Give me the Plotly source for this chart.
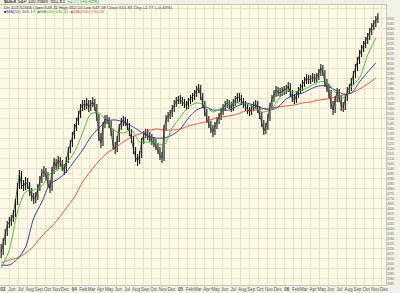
import pandas as pd
import plotly.graph_objects as go

# ---- data ----
price_dates = pd.date_range("2003-05-02", periods=186, freq="W-FRI")
close = [416,426,435,443,446,449,454,466,482,494,
         483,482,486,483,477,472,469,471,480,488,
         495,497,493,484,480,498,506,502,508,505,
         501,498,508,518,524,532,540,546,553,560,
         564,562,565,561,564,566,561,551,531,525,
         543,549,548,544,536,522,519,529,541,546,
         548,546,542,536,529,518,511,507,513,527,
         533,535,532,530,527,525,522,518,512,510,
         540,549,552,554,559,564,567,568,568,566,
         564,562,567,569,571,574,578,580,572,564,
         556,549,544,539,536,542,547,551,556,560,
         563,565,563,560,565,568,571,570,567,564,
         561,558,556,560,562,564,559,553,545,537,
         541,550,562,569,574,578,576,575,577,578,
         579,582,575,570,568,573,577,580,584,587,
         590,588,589,591,589,591,595,600,596,585,
         581,575,564,558,569,576,570,562,561,570,
         577,580,586,593,600,607,614,619,623,627,
         631,636,641,644,648,651]
high = [424,430,439,447,451,453,458,469,485,498,
        497,488,491,490,486,480,475,476,484,492,
        499,502,500,496,488,501,510,509,512,511,
        508,504,511,521,528,536,544,550,557,564,
        568,568,570,568,568,571,569,564,554,535,
        546,553,553,551,547,539,526,532,544,550,
        552,551,549,545,539,532,521,514,517,530,
        537,539,539,536,534,531,529,525,521,516,
        543,553,556,558,563,568,571,572,573,571,
        569,567,570,573,575,578,582,584,583,575,
        567,559,552,547,543,546,551,555,560,564,
        567,569,568,566,569,572,575,575,573,570,
        567,564,561,564,566,568,567,562,556,548,
        545,554,565,573,578,582,581,580,581,582,
        583,586,585,578,574,577,581,584,588,591,
        594,593,593,595,594,595,599,604,603,598,
        589,584,578,567,572,580,579,573,566,573,
        581,584,590,597,604,611,618,623,627,631,
        635,640,645,648,652,655]
low = [410,413,423,432,440,442,446,451,463,479,
       479,477,478,479,472,467,464,465,468,477,
       485,491,488,480,475,477,494,498,499,501,
       497,493,495,505,515,521,529,537,543,550,
       557,558,559,556,557,561,557,547,527,520,
       522,540,544,540,532,518,514,516,526,538,
       542,542,538,532,525,514,506,502,504,510,
       524,530,528,526,523,521,518,514,508,505,
       507,537,546,549,551,556,561,564,564,562,
       560,558,559,564,566,568,571,575,568,560,
       552,545,540,535,531,533,539,544,548,553,
       557,560,559,556,557,562,565,566,563,560,
       557,554,552,553,557,559,555,549,541,533,
       534,538,547,559,566,571,572,571,572,573,
       574,576,571,566,564,565,570,574,577,581,
       584,584,584,586,585,586,588,592,592,581,
       576,570,559,553,555,566,566,557,556,558,
       567,574,577,583,590,597,604,611,616,620,
       624,628,633,638,641,645]
open_ = [low[0]] + close[:-1]

ma_dates = price_dates[::4]
ma20 = [400,418,456,476,478,482,494,498,505,516,
        535,554,555,546,537,535,538,526,526,525,
        523,540,551,561,565,563,556,560,564,565,
        564,561,556,558,568,578,576,578,582,586,
        586,576,570,581,590,613,630]
ma50 = [403,403,409,421,450,466,484,489,496,507,
        518,531,540,547,548,546,542,537,532,530,
        530,533,539,550,558,561,558,558,558,562,
        565,563,560,558,561,569,573,575,579,582,
        582,578,574,575,586,596,605]
ma200 = [405,408,410,415,422,432,440,449,460,471,
         486,497,507,515,520,526,531,534,537,539,
         538,538,539,542,544,546,549,551,552,554,
         557,558,559,560,561,562,563,565,566,568,
         569,571,573,575,579,584,590]

month_ticks = pd.date_range("2003-05-01", "2006-12-01", freq="MS")
month_labels = [("<b>%s</b>" % d.strftime("%y")) if (d.month == 1 or i == 0) else d.strftime("%b")
                for i, d in enumerate(month_ticks)]
price_labels = list(range(385, 655, 5))
grid_vals = list(range(390, 661, 10))

# ---- figure ----
fig = go.Figure()
fig.add_trace(go.Scatter(x=ma_dates, y=ma200, mode="lines",
                         line=dict(color="#e5534b", width=1, shape="spline", smoothing=0.8)))
fig.add_trace(go.Scatter(x=ma_dates, y=ma50, mode="lines",
                         line=dict(color="#3a3f9a", width=1, shape="spline", smoothing=0.8)))
fig.add_trace(go.Scatter(x=ma_dates, y=ma20, mode="lines",
                         line=dict(color="#4dbb4d", width=1, shape="spline", smoothing=0.8)))
fig.add_trace(go.Ohlc(x=price_dates, open=open_, high=high, low=low, close=close,
                      increasing=dict(line=dict(color="#161616", width=1.1)),
                      decreasing=dict(line=dict(color="#161616", width=1.1)),
                      tickwidth=0))
fig.add_trace(go.Scatter(x=price_dates, y=close, mode="lines",
                         line=dict(color="#222222", width=0.7), hoverinfo="skip"))
fig.add_trace(go.Scatter(x=[price_dates[0]], y=[close[0]], yaxis="y2", mode="markers",
                         marker=dict(opacity=0), hoverinfo="skip"))

yr = [383, 663]
fig.update_layout(
    width=400, height=293,
    margin=dict(l=0, r=14, t=5, b=8),
    paper_bgcolor="#F2F1E6",
    plot_bgcolor="#FCFAE6",
    showlegend=False,
    xaxis=dict(type="date", range=["2003-04-28", "2006-12-15"],
               tickvals=list(month_ticks), ticktext=month_labels, tickangle=0,
               tickfont=dict(size=4.5, color="#555555", family="Liberation Sans"),
               ticklabelshift=2, ticklabeloverflow="allow",
               showgrid=True, gridcolor="#E6E3C6", gridwidth=1, ticks="",
               showline=True, linecolor="#C9C7B2", mirror=True, zeroline=False,
               rangeslider=dict(visible=False)),
    yaxis=dict(range=yr, tickvals=grid_vals, showticklabels=False,
               showgrid=True, gridcolor="#E6E3C6", gridwidth=1, ticks="",
               showline=True, linecolor="#C9C7B2", mirror=True, zeroline=False),
    yaxis2=dict(range=yr, overlaying="y", side="right", tickvals=price_labels,
                ticktext=[str(v) for v in price_labels],
                tickfont=dict(size=4.3, color="#777777", family="Liberation Sans"),
                showgrid=False, ticks="", zeroline=False, showline=False),
)

fig.add_annotation(xref="paper", yref="paper", x=0.005, y=1.011, xanchor="left", yanchor="middle",
                   showarrow=False, align="left",
                   text="<b>$OEX</b> S&P 100 Index  651.83  <span style='color:#2f9e2f'>+2.77 (+0.43%)</span>",
                   font=dict(size=4.6, color="#222222", family="Liberation Sans"))
fig.add_annotation(xref="paper", yref="paper", x=0.005, y=0.992, xanchor="left", yanchor="middle",
                   showarrow=False, align="left",
                   text="Dn 11/17/2006 Open 649.32 High 652.10 Low 647.58 Close 651.83 Chg +2.77 (+0.43%)",
                   font=dict(size=4.3, color="#333333", family="Liberation Sans"))
fig.add_annotation(xref="paper", yref="paper", x=0.005, y=0.977, xanchor="left", yanchor="middle",
                   showarrow=False, align="left",
                   text="<span style='color:#3a3f9a'>■MA(50) 605.17</span>  "
                        "<span style='color:#3aa53a'>■MA(20) 630.41</span>  "
                        "<span style='color:#e5534b'>■MA(200) 590.26</span>",
                   font=dict(size=4.3, family="Liberation Sans"))

fig.write_html("out.html")
